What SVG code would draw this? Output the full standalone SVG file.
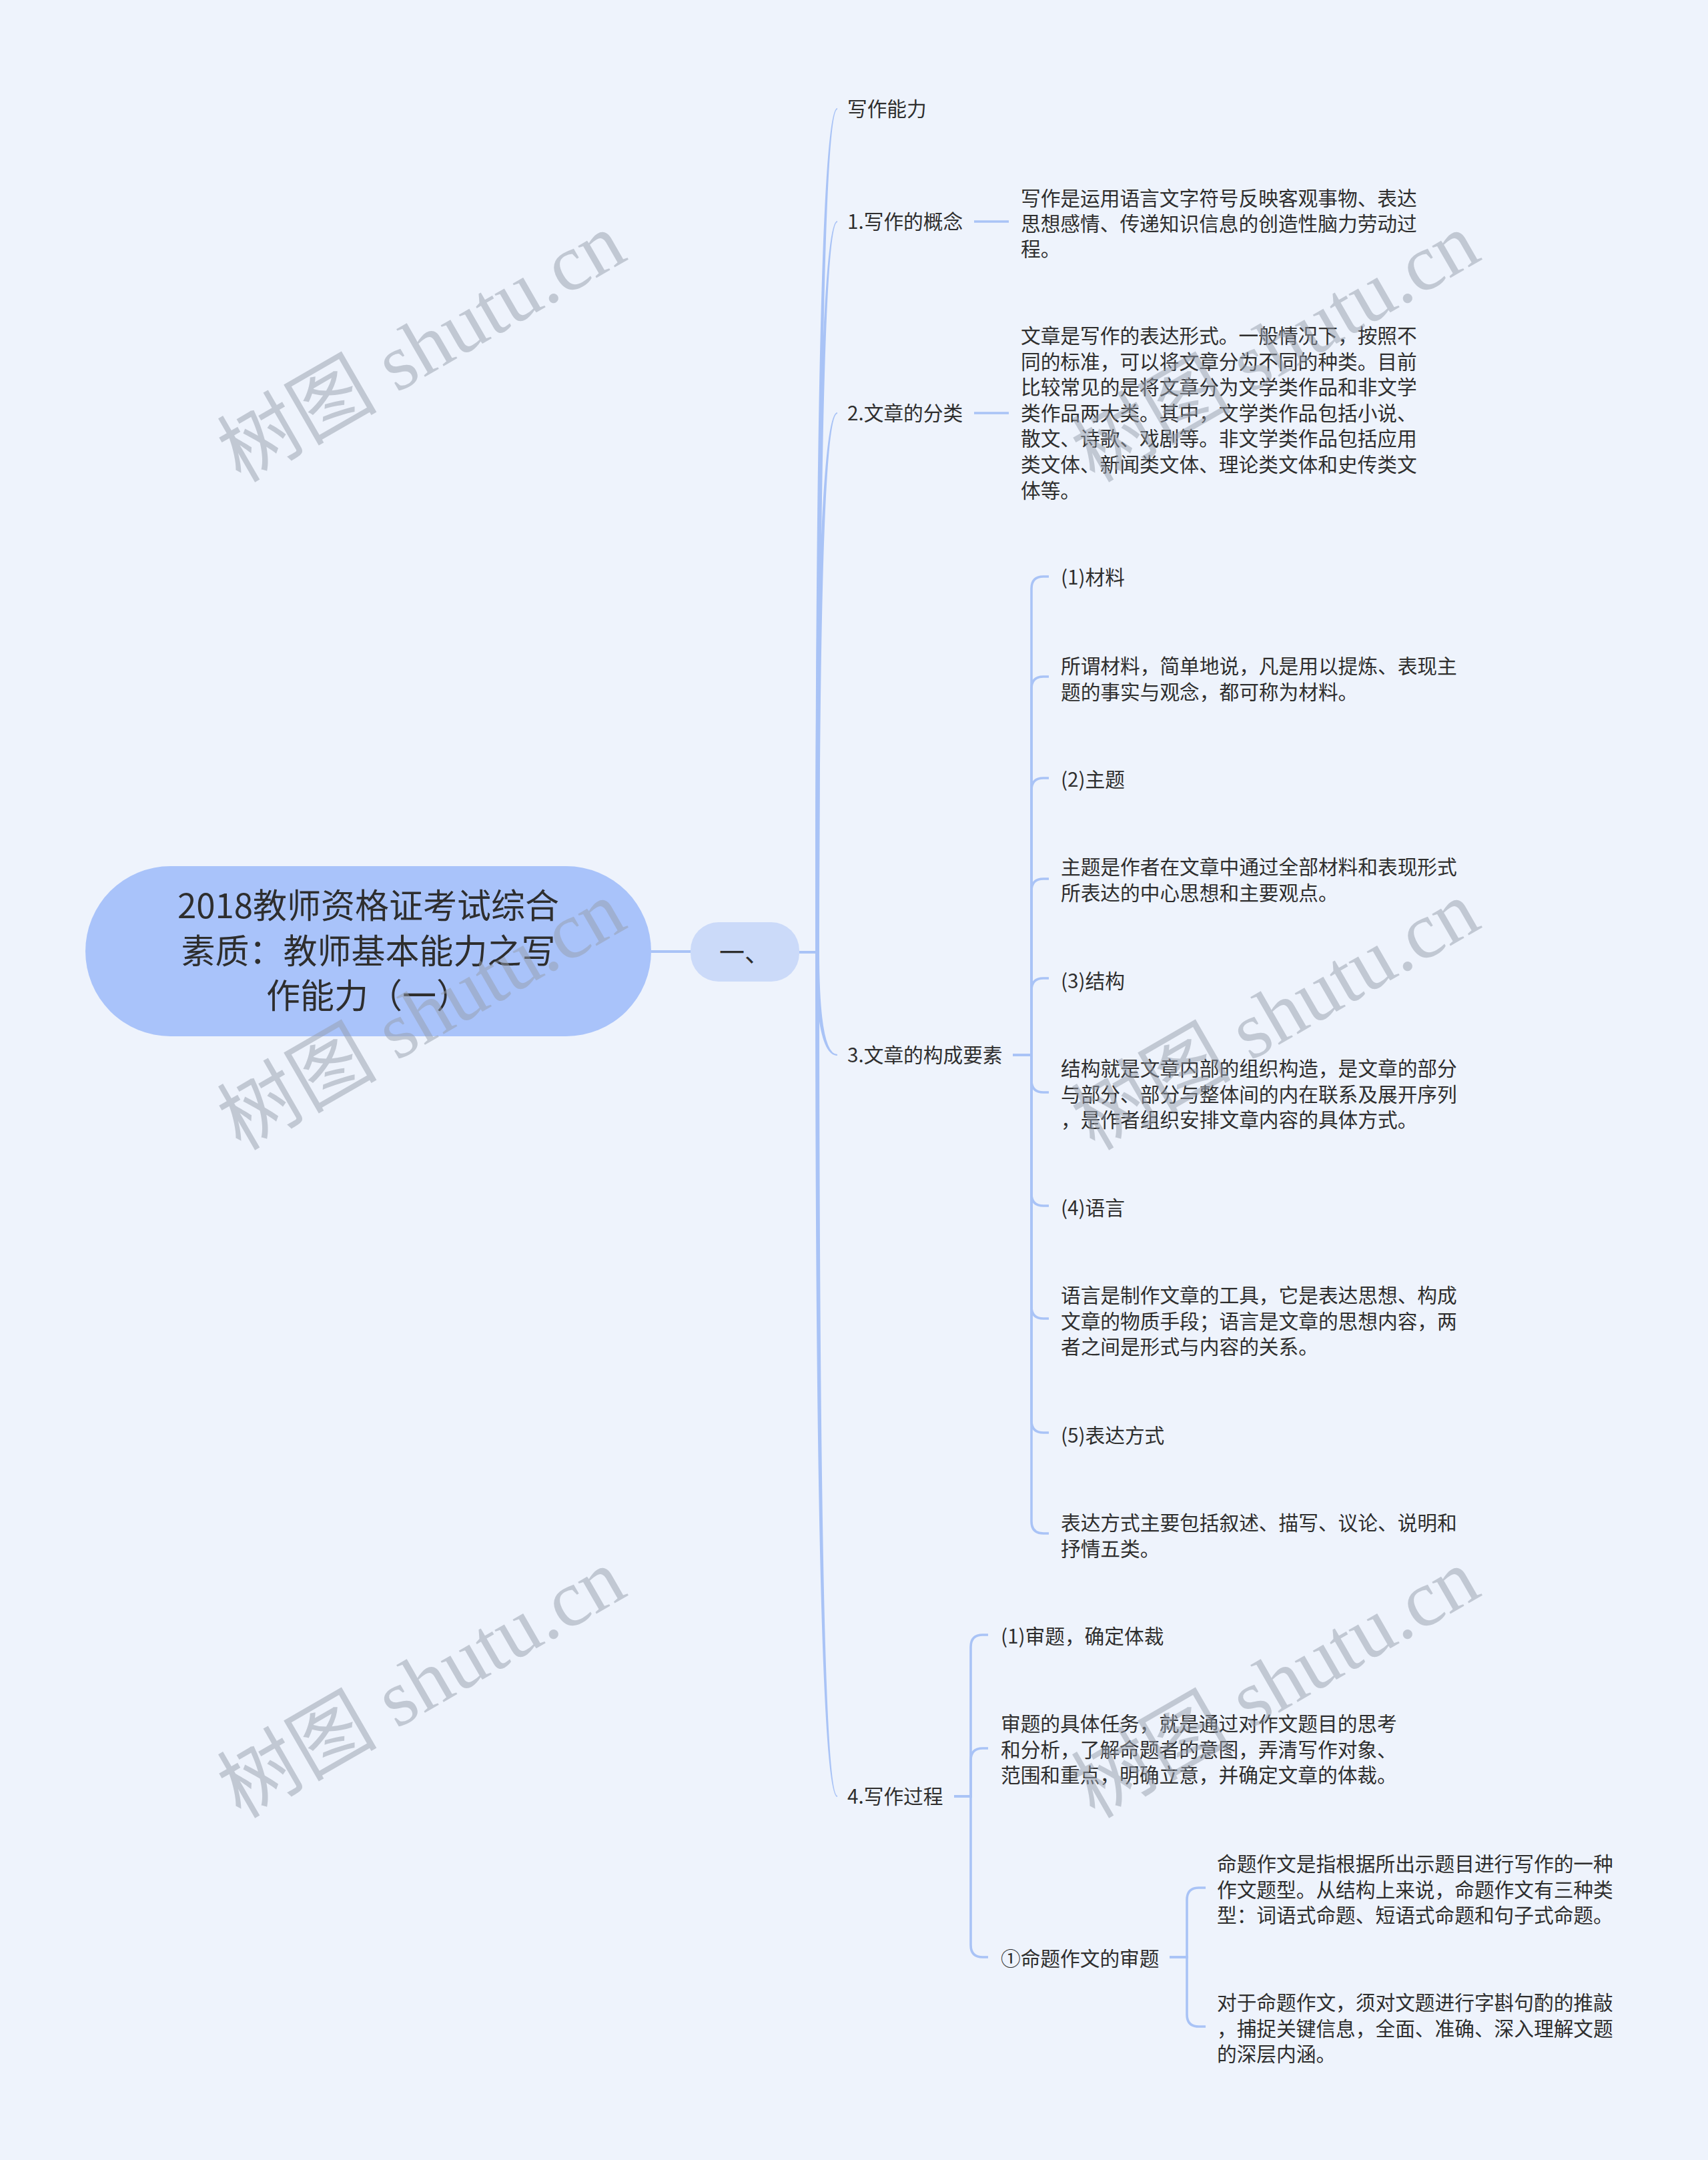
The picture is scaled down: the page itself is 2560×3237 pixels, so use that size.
<svg xmlns="http://www.w3.org/2000/svg" width="2560" height="3237" viewBox="0 0 2560 3237">
<style>
.t{font-family:"Noto Sans CJK SC","Noto Sans",sans-serif;font-size:29.7px;fill:#2e2e2e}
.title{font-family:"Noto Sans CJK SC","Noto Sans",sans-serif;font-size:51px;fill:#2e2e2e;text-anchor:middle}
.l1{font-family:"Noto Sans CJK SC","Noto Sans",sans-serif;font-size:38px;fill:#2e2e2e;text-anchor:middle}
.ln{stroke:#a9c3f6;stroke-width:4;fill:none}
.br{stroke:#a9c3f6;stroke-width:3.6;fill:none}
.tp{fill:#a9c3f6}
.wm{font-family:"Liberation Serif","Noto Sans CJK SC",serif;font-size:120px;fill:#969eac;opacity:.5;text-anchor:middle}
</style>
<rect width="2560" height="3237" fill="#eef3fc"/>

<g id="connectors">
<path class="ln" d="M976 1426 H1035"/>
<path class="ln" d="M1198 1427 H1227"/>
<path class="tp" d="M1222 1427 Q1222 162 1255 162 L1255 164 Q1228 164 1228 1427 Z"/>
<path class="tp" d="M1222 1427 Q1222 331 1255 331 L1255 333 Q1228 333 1228 1427 Z"/>
<path class="tp" d="M1222 1427 Q1222 618 1255 618 L1255 620 Q1228 620 1228 1427 Z"/>
<path class="tp" d="M1222 1427 Q1222 1582 1255 1582 L1255 1580 Q1228 1580 1228 1427 Z"/>
<path class="tp" d="M1222 1427 Q1222 2693 1255 2693 L1255 2691 Q1228 2691 1228 1427 Z"/>
<path class="br" d="M1460 332 H1512"/>
<path class="br" d="M1460 619 H1512"/>
<path class="br" d="M1518 1581 H1546 V882 Q1546 864 1564 864 H1572"/>
<path class="br" d="M1518 1581 H1546 V1032 Q1546 1014 1564 1014 H1572"/>
<path class="br" d="M1518 1581 H1546 V1184 Q1546 1166 1564 1166 H1572"/>
<path class="br" d="M1518 1581 H1546 V1335 Q1546 1317 1564 1317 H1572"/>
<path class="br" d="M1518 1581 H1546 V1484 Q1546 1466 1564 1466 H1572"/>
<path class="br" d="M1518 1581 H1546 V1619 Q1546 1637 1564 1637 H1572"/>
<path class="br" d="M1518 1581 H1546 V1789 Q1546 1807 1564 1807 H1572"/>
<path class="br" d="M1518 1581 H1546 V1958 Q1546 1976 1564 1976 H1572"/>
<path class="br" d="M1518 1581 H1546 V2129 Q1546 2147 1564 2147 H1572"/>
<path class="br" d="M1518 1581 H1546 V2280 Q1546 2298 1564 2298 H1572"/>
<path class="br" d="M1430 2692 H1455 V2468 Q1455 2450 1473 2450 H1481"/>
<path class="br" d="M1430 2692 H1455 V2638 Q1455 2620 1473 2620 H1481"/>
<path class="br" d="M1430 2692 H1455 V2915 Q1455 2933 1473 2933 H1481"/>
<path class="br" d="M1753 2933 H1779 V2847 Q1779 2829 1797 2829 H1807"/>
<path class="br" d="M1753 2933 H1779 V3019 Q1779 3037 1797 3037 H1807"/>
</g>

<g id="root">
<rect x="128" y="1298" width="848" height="255" rx="127.5" fill="#a9c3fa"/>
<text class="title" x="552" y="1376">2018教师资格证考试综合</text>
<text class="title" x="552" y="1444">素质：教师基本能力之写</text>
<text class="title" x="552" y="1511">作能力（一）</text>
</g>

<g id="n-yi">
<rect x="1035" y="1382" width="163" height="89" rx="42" fill="#cbdaf9"/>
<text class="l1" x="1116" y="1441">一、</text>
</g>

<g id="n-xiezuonengli"><text class="t" x="1270" y="174">写作能力</text></g>
<g id="n-1"><text class="t" x="1270" y="343">1.写作的概念</text></g>
<g id="n-1-d">
<text class="t" x="1530" y="308">写作是运用语言文字符号反映客观事物、表达</text>
<text class="t" x="1530" y="346">思想感情、传递知识信息的创造性脑力劳动过</text>
<text class="t" x="1530" y="384">程。</text>
</g>
<g id="n-2"><text class="t" x="1270" y="630">2.文章的分类</text></g>
<g id="n-2-d">
<text class="t" x="1530" y="514">文章是写作的表达形式。一般情况下，按照不</text>
<text class="t" x="1530" y="552.6">同的标准，可以将文章分为不同的种类。目前</text>
<text class="t" x="1530" y="591.2">比较常见的是将文章分为文学类作品和非文学</text>
<text class="t" x="1530" y="629.8">类作品两大类。其中，文学类作品包括小说、</text>
<text class="t" x="1530" y="668.4">散文、诗歌、戏剧等。非文学类作品包括应用</text>
<text class="t" x="1530" y="707">类文体、新闻类文体、理论类文体和史传类文</text>
<text class="t" x="1530" y="745.6">体等。</text>
</g>
<g id="n-3"><text class="t" x="1270" y="1592">3.文章的构成要素</text></g>
<g id="n-3-1"><text class="t" x="1590" y="876">(1)材料</text></g>
<g id="n-3-1-d">
<text class="t" x="1590" y="1009">所谓材料，简单地说，凡是用以提炼、表现主</text>
<text class="t" x="1590" y="1047.5">题的事实与观念，都可称为材料。</text>
</g>
<g id="n-3-2"><text class="t" x="1590" y="1179">(2)主题</text></g>
<g id="n-3-2-d">
<text class="t" x="1590" y="1310">主题是作者在文章中通过全部材料和表现形式</text>
<text class="t" x="1590" y="1348.5">所表达的中心思想和主要观点。</text>
</g>
<g id="n-3-3"><text class="t" x="1590" y="1481">(3)结构</text></g>
<g id="n-3-3-d">
<text class="t" x="1590" y="1612">结构就是文章内部的组织构造，是文章的部分</text>
<text class="t" x="1590" y="1650.5">与部分、部分与整体间的内在联系及展开序列</text>
<text class="t" x="1590" y="1689">，是作者组织安排文章内容的具体方式。</text>
</g>
<g id="n-3-4"><text class="t" x="1590" y="1821">(4)语言</text></g>
<g id="n-3-4-d">
<text class="t" x="1590" y="1952">语言是制作文章的工具，它是表达思想、构成</text>
<text class="t" x="1590" y="1990.5">文章的物质手段；语言是文章的思想内容，两</text>
<text class="t" x="1590" y="2029">者之间是形式与内容的关系。</text>
</g>
<g id="n-3-5"><text class="t" x="1590" y="2162">(5)表达方式</text></g>
<g id="n-3-5-d">
<text class="t" x="1590" y="2293">表达方式主要包括叙述、描写、议论、说明和</text>
<text class="t" x="1590" y="2331.5">抒情五类。</text>
</g>
<g id="n-4"><text class="t" x="1270" y="2703">4.写作过程</text></g>
<g id="n-4-1"><text class="t" x="1500" y="2463">(1)审题，确定体裁</text></g>
<g id="n-4-1-d">
<text class="t" x="1500" y="2594">审题的具体任务，就是通过对作文题目的思考</text>
<text class="t" x="1500" y="2632.5">和分析，了解命题者的意图，弄清写作对象、</text>
<text class="t" x="1500" y="2671">范围和重点，明确立意，并确定文章的体裁。</text>
</g>
<g id="n-4-2"><text class="t" x="1500" y="2946">①命题作文的审题</text></g>
<g id="n-4-2-a">
<text class="t" x="1824" y="2804">命题作文是指根据所出示题目进行写作的一种</text>
<text class="t" x="1824" y="2842.5">作文题型。从结构上来说，命题作文有三种类</text>
<text class="t" x="1824" y="2881">型：词语式命题、短语式命题和句子式命题。</text>
</g>
<g id="n-4-2-b">
<text class="t" x="1824" y="3012">对于命题作文，须对文题进行字斟句酌的推敲</text>
<text class="t" x="1824" y="3050.5">，捕捉关键信息，全面、准确、深入理解文题</text>
<text class="t" x="1824" y="3089">的深层内涵。</text>
</g>

<g id="watermarks">
<text class="wm" transform="translate(652 556) rotate(-30)">树图 shutu.cn</text>
<text class="wm" transform="translate(1932 556) rotate(-30)">树图 shutu.cn</text>
<text class="wm" transform="translate(652 1557) rotate(-30)">树图 shutu.cn</text>
<text class="wm" transform="translate(1932 1557) rotate(-30)">树图 shutu.cn</text>
<text class="wm" transform="translate(652 2558) rotate(-30)">树图 shutu.cn</text>
<text class="wm" transform="translate(1932 2558) rotate(-30)">树图 shutu.cn</text>
</g>
</svg>
